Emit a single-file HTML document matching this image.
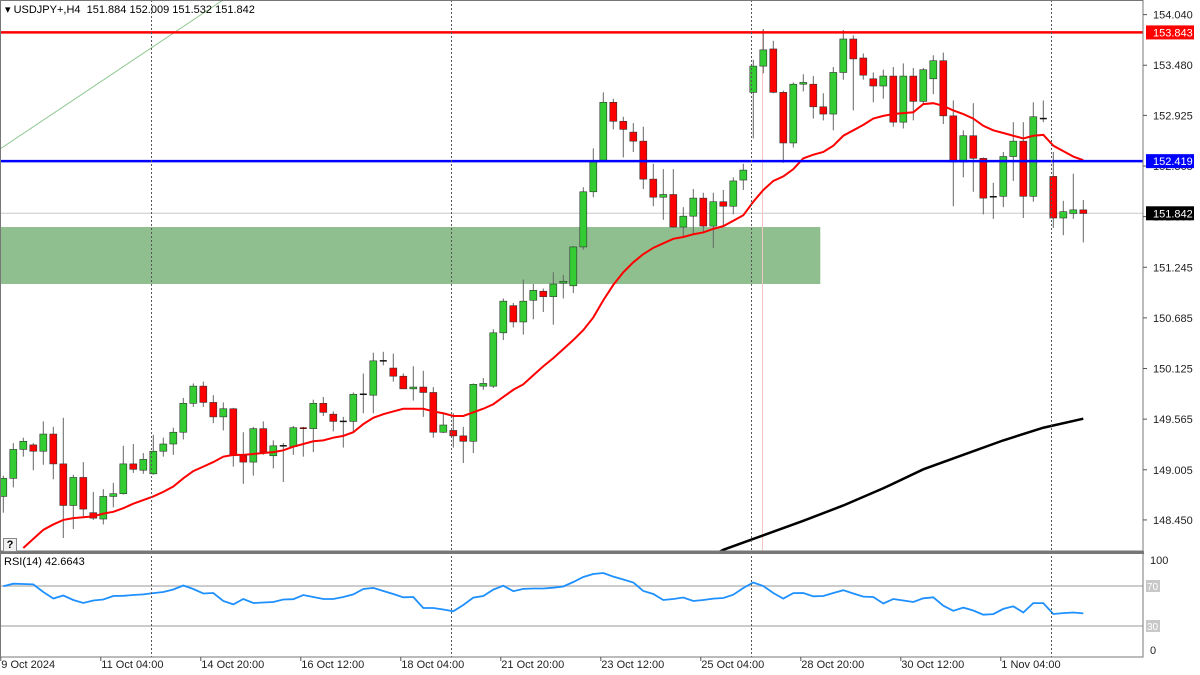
<!DOCTYPE html>
<html><head><meta charset="utf-8"><title>USDJPY H4</title>
<style>
html,body{margin:0;padding:0;background:#fff;}
svg{display:block;font-family:"Liberation Sans",sans-serif;}
</style></head>
<body>
<svg id="chart" width="1200" height="675" viewBox="0 0 1200 675" xmlns="http://www.w3.org/2000/svg">
<defs><clipPath id="mainClip"><rect x="0" y="0" width="1143" height="551"/></clipPath>
<clipPath id="rsiClip"><rect x="0" y="554" width="1143" height="103"/></clipPath></defs>
<rect x="0" y="0" width="1200" height="675" fill="#fff"/>
<g id="main" clip-path="url(#mainClip)"></g>
<g id="rsi" clip-path="url(#rsiClip)"></g>
<g id="axes"></g>
</svg>
<script>
const opens=[148.71,148.91,149.23,149.28,149.21,149.40,149.07,148.61,148.92,148.53,148.46,148.71,148.74,149.07,149.00,148.96,149.21,149.29,149.42,149.74,149.93,149.75,149.59,149.68,149.16,149.09,149.46,149.16,149.27,149.26,149.47,149.46,149.74,149.62,149.54,149.54,149.84,149.83,150.21,150.13,150.04,149.90,149.92,149.86,149.42,149.44,149.38,149.32,149.93,149.93,150.52,150.82,150.64,150.88,150.98,150.92,151.07,151.04,151.47,152.08,152.43,153.07,152.86,152.74,152.64,152.22,152.02,152.05,151.69,151.81,152.01,151.70,151.97,151.92,152.21,153.18,153.47,153.66,153.18,152.62,153.27,153.27,153.02,152.94,153.40,153.77,153.56,153.33,153.25,153.36,152.85,153.36,153.08,153.33,153.53,152.92,152.41,152.70,152.45,152.02,152.03,152.47,152.64,152.03,152.89,152.25,151.79,151.84,151.88];
const highs=[148.94,149.30,149.36,149.30,149.54,149.48,149.58,148.95,149.09,148.76,148.79,148.86,149.27,149.29,149.19,149.39,149.36,149.47,149.80,149.96,149.98,149.83,149.75,149.69,149.42,149.48,149.54,149.33,149.30,149.49,149.48,149.78,149.81,149.65,149.59,149.86,150.07,150.30,150.31,150.29,150.07,150.15,150.10,149.92,149.63,149.63,149.48,149.96,150.02,150.56,150.90,150.85,151.11,151.06,151.01,151.19,151.16,151.48,152.13,152.56,153.18,153.11,152.91,152.84,152.80,152.39,152.33,152.33,151.91,152.11,152.07,152.07,152.10,152.24,152.39,153.54,153.88,153.75,153.20,153.29,153.38,153.36,153.17,153.46,153.87,153.81,153.61,153.40,153.43,153.46,153.50,153.45,153.45,153.59,153.62,153.09,152.76,153.06,152.46,152.18,152.52,152.85,152.85,153.07,153.09,152.52,151.98,152.28,151.99];
const lows=[148.53,148.81,149.15,149.00,149.06,148.90,148.25,148.35,148.49,148.45,148.40,148.59,148.73,148.97,148.96,148.95,149.15,149.17,149.34,149.70,149.70,149.52,149.44,149.04,148.85,148.94,149.17,149.02,148.87,149.17,149.15,149.20,149.60,149.43,149.25,149.43,149.63,149.63,150.16,149.98,149.90,149.77,149.59,149.36,149.41,149.25,149.08,149.19,149.89,149.91,150.44,150.58,150.50,150.67,150.75,150.61,150.90,150.96,151.44,152.02,152.42,152.77,152.46,152.52,152.11,151.92,151.77,151.68,151.59,151.62,151.62,151.46,151.71,151.83,152.10,152.67,153.39,153.17,152.40,152.57,153.19,152.89,152.87,152.76,153.32,152.98,153.32,153.07,153.11,152.80,152.78,152.87,153.06,153.16,152.83,151.92,152.24,152.08,151.83,151.78,151.91,152.20,151.79,151.97,152.85,151.68,151.60,151.78,151.52];
const closes=[148.91,149.23,149.32,149.21,149.40,149.07,148.61,148.92,148.57,148.47,148.71,148.74,149.07,149.01,149.12,149.21,149.29,149.42,149.74,149.93,149.75,149.59,149.68,149.16,149.09,149.46,149.20,149.27,149.27,149.47,149.46,149.74,149.64,149.54,149.54,149.84,149.84,150.21,150.21,150.04,149.90,149.92,149.86,149.42,149.50,149.38,149.32,149.95,149.96,150.52,150.87,150.64,150.87,150.99,150.92,151.06,151.09,151.47,152.08,152.42,153.07,152.86,152.77,152.64,152.22,152.02,152.05,151.69,151.81,152.01,151.70,151.97,151.92,152.20,152.32,153.47,153.65,153.18,152.62,153.27,153.29,153.02,152.94,153.40,153.77,153.55,153.37,153.25,153.36,152.85,153.36,153.08,153.43,153.53,152.92,152.41,152.70,152.45,152.01,152.03,152.47,152.64,152.03,152.91,152.89,151.79,151.86,151.88,151.84];
const redMAStart=2;
const redMA=[148.14,148.24,148.34,148.40,148.45,148.47,148.48,148.49,148.52,148.54,148.58,148.63,148.67,148.71,148.76,148.82,148.91,148.99,149.04,149.09,149.15,149.17,149.17,149.18,149.19,149.20,149.22,149.26,149.29,149.32,149.33,149.36,149.38,149.42,149.51,149.58,149.62,149.65,149.68,149.68,149.68,149.65,149.63,149.60,149.60,149.64,149.68,149.73,149.81,149.89,149.95,150.05,150.15,150.24,150.34,150.44,150.55,150.69,150.88,151.05,151.19,151.30,151.39,151.46,151.51,151.56,151.58,151.61,151.63,151.67,151.70,151.76,151.82,151.97,152.10,152.20,152.25,152.33,152.45,152.49,152.52,152.59,152.70,152.76,152.82,152.89,152.92,152.94,152.95,152.96,153.05,153.06,153.03,152.98,152.94,152.89,152.81,152.76,152.73,152.70,152.67,152.70,152.71,152.59,152.53,152.47,152.43];
const blackIdx=[71,72,76,80,84,88,92,96,100,104,108];
const blackMA=[148.06,148.12,148.28,148.44,148.61,148.80,149.01,149.17,149.33,149.47,149.57];
const rsiVals=[69.7,72.3,72,71.6,64,57.5,60.5,56,53,55.5,56.5,60,60.2,61,61.6,62.9,64,66.5,70.5,67,62.5,63,55,51.6,57,53,53.5,54,56.5,56.8,61,59,57,57,59,61.6,67,68.1,65,62,58.7,59,48,48,46.5,44.7,51,58.4,60,66.4,70.3,64.8,67.1,67.5,67.5,68.3,69.5,74,79,82,83,79.4,76.5,73.5,65,62,56,57,58.5,55,56,57.4,58,61.3,68,73.5,70,63,57.4,62.9,63,59.7,60,63,65.8,62.5,59.4,59,52.5,57,55.5,54,57.7,58.7,50.3,45.2,48.4,45.5,41.3,41.9,47.1,49.7,43.5,52.9,52.9,42,42.9,43.5,42.66];
const priceTicks=[154.040,153.480,152.925,152.365,151.805,151.245,150.685,150.125,149.565,149.005,148.450];
const timeLabels=["9 Oct 2024","11 Oct 04:00","14 Oct 20:00","16 Oct 12:00","18 Oct 04:00","21 Oct 20:00","23 Oct 12:00","25 Oct 04:00","28 Oct 20:00","30 Oct 12:00","1 Nov 04:00"];
const timeLabelIdx=[0,10,20,30,40,50,60,70,80,90,100];
const separatorIdx=[15,45,75,105];
const resistance=153.843, support=152.419, lastPrice=151.842;
const zoneTop=151.69, zoneBottom=151.06, zoneEndIdx=82;
const rsiLevels=[70,30];

const NS="http://www.w3.org/2000/svg";
const xOf=i=>3.3+10*i;
const yOf=p=>14.6+(154.04-p)*90.4;
const yR=r=>656-r;
function mk(tag,attrs,parent,text){const e=document.createElementNS(NS,tag);for(const k in attrs)e.setAttribute(k,attrs[k]);if(text!==undefined)e.textContent=text;parent.appendChild(e);return e;}
const main=document.getElementById('main'),rsiG=document.getElementById('rsi'),axes=document.getElementById('axes');

// zone
let z=mk('rect',{x:0,y:yOf(zoneTop),width:xOf(zoneEndIdx)-3,height:yOf(zoneBottom)-yOf(zoneTop),fill:'#8fbf8f'},main);


// last price grey line
let lp=mk('line',{x1:0,x2:1143,y1:yOf(lastPrice),y2:yOf(lastPrice),stroke:'#c8c8c8','stroke-width':1},main);


// trendline
let tl=mk('line',{x1:0,y1:149,x2:223,y2:0,stroke:'#90c890','stroke-width':1},main);


// pink vline
let pv=mk('line',{x1:762.5,x2:762.5,y1:30,y2:551,stroke:'#f4c4c4','stroke-width':1},main);


// separators
separatorIdx.forEach(i=>{const xx=Math.round(xOf(i)-2.3)+0.5;
 let l=mk('line',{x1:xx,x2:xx,y1:0,y2:657,stroke:'#555','stroke-width':1,'stroke-dasharray':'2,2'},axes);
 
 });
// candles
for(let i=0;i<opens.length;i++){
 const o=opens[i],c=closes[i],h=highs[i],l=lows[i],x=xOf(i);
 const g=mk('g',{},main);
 
 
 mk('line',{x1:x,x2:x,y1:yOf(h),y2:yOf(l),stroke:'#666','stroke-width':1},g);
 const top=yOf(Math.max(o,c)),bot=yOf(Math.min(o,c));
 if(bot-top<1.5){mk('line',{x1:x-3.5,x2:x+3.5,y1:(top+bot)/2,y2:(top+bot)/2,stroke:c>=o?'#111':'#600','stroke-width':1.5},g);}
 else mk('rect',{x:x-3.5,y:top,width:7,height:bot-top,fill:c>=o?'#33cc33':'#ff0000',stroke:'#333','stroke-width':0.6},g);
}
// red MA
let pts=redMA.map((v,k)=>xOf(k+redMAStart)+','+yOf(v)).join(' ');
let rm=mk('polyline',{points:pts,fill:'none',stroke:'#ff0000','stroke-width':2},main);


pts=blackMA.map((v,k)=>xOf(blackIdx[k])+','+yOf(v)).join(' ');
let bm=mk('polyline',{points:pts,fill:'none',stroke:'#000','stroke-width':2.5},main);


// horizontal levels
let rl=mk('line',{x1:0,x2:1143,y1:yOf(resistance),y2:yOf(resistance),stroke:'#ff0000','stroke-width':2.5},main);


let bl=mk('line',{x1:0,x2:1143,y1:yOf(support),y2:yOf(support),stroke:'#0000ff','stroke-width':2.5},main);



// RSI
rsiLevels.forEach(v=>{let l=mk('line',{x1:0,x2:1143,y1:yR(v),y2:yR(v),stroke:'#bbb','stroke-width':1.5},rsiG);
 
 });
pts=rsiVals.map((v,i)=>xOf(i)+','+yR(v)).join(' ');
let rp=mk('polyline',{points:pts,fill:'none',stroke:'#1e90ff','stroke-width':1.8},rsiG);



// frames
let f1=mk('rect',{x:0.5,y:0.5,width:1142.5,height:550.5,fill:'none',stroke:'#777','stroke-width':1},axes);


let sep=mk('rect',{x:0,y:551,width:1144,height:3,fill:'#777'},axes);


let f2=mk('rect',{x:0.5,y:553.5,width:1142.5,height:103.5,fill:'none',stroke:'#777','stroke-width':1},axes);



// price ticks
priceTicks.forEach(p=>{const y=yOf(p);
 mk('line',{x1:1143,x2:1147,y1:y,y2:y,stroke:'#555'},axes);
 let t=mk('text',{x:1153,y:y+4,'font-size':11,fill:'#222'},axes,p.toFixed(3));
 
 });
function tag(p,bg,fg,name){const y=yOf(p);
 const g=mk('g',{},axes);
 
 
 mk('rect',{x:1146,y:y-7,width:48,height:14,fill:bg},g);
 mk('text',{x:1153,y:y+4,'font-size':11,fill:fg},g,p.toFixed(3));}
tag(resistance,'#ff0000','#fff','resistance-price-tag');
tag(support,'#0000ff','#fff','support-price-tag');
tag(lastPrice,'#000','#fff','last-price-tag');
// RSI axis
[[100,560],[0,650]].forEach(a=>{let t=mk('text',{x:1150,y:a[1]+4,'font-size':11,fill:'#222'},axes,String(a[0]));
 
 });
rsiLevels.forEach(v=>{const g=mk('g',{},axes);
 
 
 mk('rect',{x:1146,y:yR(v)-6,width:14,height:12,fill:'#c8c8c8'},g);
 mk('text',{x:1147,y:yR(v)+4,'font-size':10,fill:'#fff'},g,String(v));});
// time labels
timeLabels.forEach((s,k)=>{const x=xOf(timeLabelIdx[k])-3;
 mk('line',{x1:x+0.5,x2:x+0.5,y1:657,y2:661,stroke:'#555'},axes);
 let t=mk('text',{x:x+1,y:668,'font-size':11,fill:'#222'},axes,s);
 
 });
</script>
<svg width="0" height="0" style="position:absolute"></svg>
<div style="position:absolute;left:5px;top:3px;font:11px 'Liberation Sans',sans-serif;color:#000;">▾ USDJPY+,H4&nbsp; 151.884 152.009 151.532 151.842</div>
<div style="position:absolute;left:4px;top:556px;font:11px 'Liberation Sans',sans-serif;color:#000;">RSI(14) 42.6643</div>
<div style="position:absolute;left:3px;top:538px;width:12px;height:12px;border:1px solid #888;background:#f0f0f0;font:bold 11px 'Liberation Sans',sans-serif;line-height:12px;text-align:center;">?</div>
</body></html>
